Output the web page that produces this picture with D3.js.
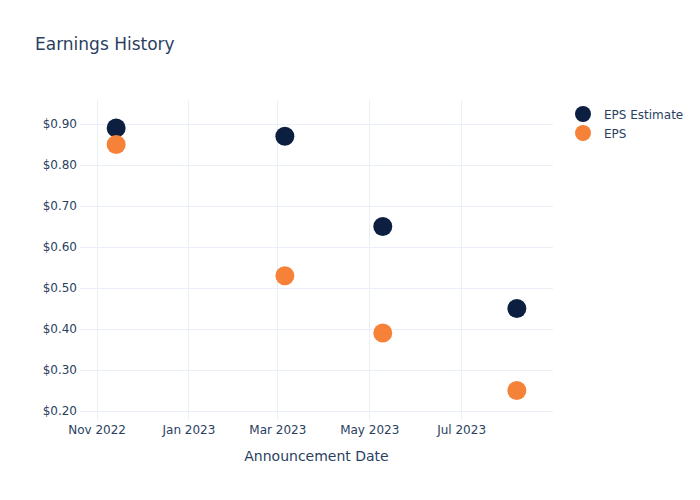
<!DOCTYPE html>
<html>
<head>
<meta charset="utf-8">
<script src="https://cdn.jsdelivr.net/npm/d3@7/dist/d3.min.js"></script>
<style>
  html, body { margin: 0; padding: 0; background: #fff; }
  text { font-family: "DejaVu Sans", Verdana, sans-serif; }
</style>
</head>
<body>
<svg id="chart" width="700" height="500"></svg>
<script>
const dates = ["2022-11-14", "2023-03-06", "2023-05-10", "2023-08-07"];
const epsEstimate = [0.89, 0.87, 0.65, 0.45];
const eps = [0.85, 0.53, 0.39, 0.25];
const seriesNames = ["EPS Estimate", "EPS"];
const seriesColors = ["#0c1f40", "#f6823a"];
const yTicks = [0.2, 0.3, 0.4, 0.5, 0.6, 0.7, 0.8, 0.9];
const xTicks = ["2022-11-01", "2023-01-01", "2023-03-01", "2023-05-01", "2023-07-01"];

const parse = d3.utcParse("%Y-%m-%d");
const svg = d3.select("#chart");
const W = 700, H = 500;
const m = { l: 80, r: 147, t: 100, b: 80 };
const iw = W - m.l - m.r, ih = H - m.t - m.b;
const fg = "#2a3f5f", grid = "#ebf0f8";

const parsed = dates.map(parse);
const ext = d3.extent(parsed);
const padDays = 24 * 864e5;
const x = d3.scaleUtc()
  .domain([new Date(+ext[0] - padDays), new Date(+ext[1] + padDays)])
  .range([m.l, m.l + iw]);
const allY = epsEstimate.concat(eps);
const yMin = d3.min(allY), yMax = d3.max(allY);
const y = d3.scaleLinear()
  .domain([yMin - 0.072, yMax + 0.0685])
  .range([m.t + ih, m.t]);

// gridlines
const g = svg.append("g");
g.selectAll("line.gy").data(yTicks).enter().append("line")
  .attr("x1", m.l).attr("x2", m.l + iw)
  .attr("y1", d => Math.round(y(d)) + 0.5).attr("y2", d => Math.round(y(d)) + 0.5)
  .attr("stroke", grid).attr("stroke-width", 1);
g.selectAll("line.gx").data(xTicks.map(parse)).enter().append("line")
  .attr("x1", d => Math.round(x(d)) + 0.5).attr("x2", d => Math.round(x(d)) + 0.5)
  .attr("y1", m.t).attr("y2", m.t + ih)
  .attr("stroke", grid).attr("stroke-width", 1);

// y axis
const yAxis = d3.axisLeft(y).tickValues(yTicks).tickSize(0).tickPadding(3)
  .tickFormat(d => "$" + d3.format(".2f")(d));
svg.append("g").attr("transform", `translate(${m.l},0)`).call(yAxis)
  .call(s => s.select(".domain").remove())
  .call(s => s.selectAll("text").attr("fill", fg).style("font-size", "12px")
    .style("font-family", '"DejaVu Sans", Verdana, sans-serif'));

// x axis
const fmt = d3.utcFormat("%b %Y");
const xAxis = d3.axisBottom(x).tickValues(xTicks.map(parse)).tickSize(0).tickPadding(5)
  .tickFormat(fmt);
svg.append("g").attr("transform", `translate(0,${m.t + ih})`).call(xAxis)
  .call(s => s.select(".domain").remove())
  .call(s => s.selectAll("text").attr("fill", fg).style("font-size", "12px")
    .style("font-family", '"DejaVu Sans", Verdana, sans-serif'));

// axis title
svg.append("text").attr("x", m.l + iw / 2).attr("y", 461)
  .attr("text-anchor", "middle").attr("fill", fg).style("font-size", "14px")
  .text("Announcement Date");

// title
svg.append("text").attr("x", 35).attr("y", 50)
  .attr("fill", fg).style("font-size", "17px").text("Earnings History");

// points
const series = [epsEstimate, eps];
series.forEach((vals, i) => {
  svg.append("g").selectAll("circle").data(vals).enter().append("circle")
    .attr("cx", (d, j) => x(parsed[j]))
    .attr("cy", d => y(d))
    .attr("r", 9.5)
    .attr("fill", seriesColors[i]);
});

// legend
const lg = svg.append("g").attr("transform", "translate(583,114)");
seriesNames.forEach((n, i) => {
  const row = lg.append("g").attr("transform", `translate(0,${i * 19})`);
  row.append("circle").attr("r", 8).attr("fill", seriesColors[i]);
  row.append("text").attr("x", 21).attr("y", 4.5).attr("fill", fg)
    .style("font-size", "12px").text(n);
});
</script>
</body>
</html>
